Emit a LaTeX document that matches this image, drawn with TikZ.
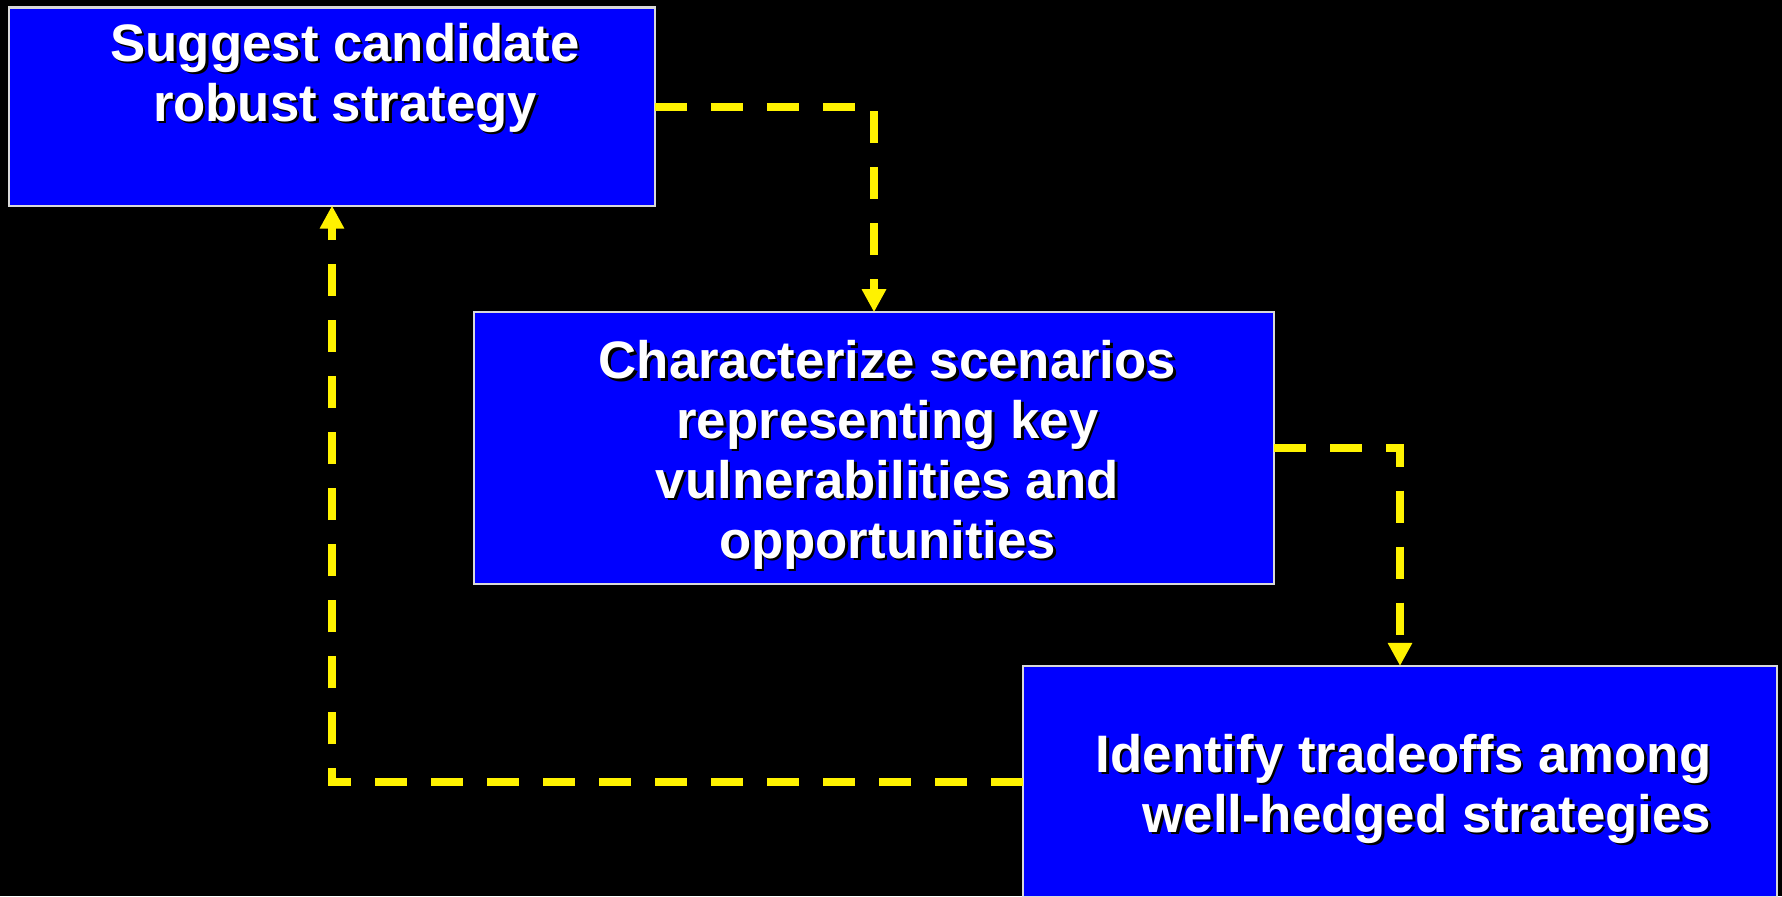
\documentclass[tikz,border=0pt]{standalone}
\usepackage{fontspec}
\setmainfont{Liberation Sans}
\usetikzlibrary{arrows.meta}

% white text with a small black drop shadow
\newcommand\shtxt[1]{\leavevmode\rlap{\kern0.7pt\raisebox{-0.7pt}{\color{black}#1}}#1}

\begin{document}
\begin{tikzpicture}[x=0.01cm,y=-0.01cm,
  box/.style={draw=white!85!black,line width=0.6pt,fill=blue,inner sep=0pt,outer sep=0pt},
  caption/.style={text=white,font=\fontsize{15pt}{17pt}\selectfont\bfseries,inner sep=0pt},
  flow/.style={draw=yellow,line width=0.08cm,dash pattern=on 0.32cm off 0.24cm,
    -{Triangle[length=0.23cm,width=0.23cm]}}]
  \useasboundingbox (0,0) rectangle (1782,896);
  \clip (0,0) rectangle (1782,896);
  \fill[black] (0,0) rectangle (1782,896);
  % boxes
  \node[box,minimum width=6.45cm,minimum height=1.98cm] (suggest) at (332,106.5) {};
  \node[box,minimum width=8.0cm,minimum height=2.72cm] (scenarios) at (874,448.3) {};
  \node[box,minimum width=7.53cm,minimum height=2.31cm] (tradeoffs) at (1400,781.5) {};
  % texts
  \node[caption,align=center] (suggest-txt) at (345,79)
    {\shtxt{Suggest candidate}\\\shtxt{robust strategy}};
  \node[caption,align=center] (scenarios-txt) at (887.5,456)
    {\shtxt{Characterize scenarios}\\\shtxt{representing key}\\
     \shtxt{vulnerabilities and}\\\shtxt{opportunities}};
  \node[caption,align=right,anchor=east] (tradeoffs-txt) at (1712,790)
    {\shtxt{Identify tradeoffs among}\\\shtxt{well-hedged strategies}};
  % loop
  \draw[flow] (suggest.east) -| (scenarios.north);
  \draw[flow] (scenarios.east) -| (tradeoffs.north);
  \draw[flow] (tradeoffs.west) -| (suggest.south);
\end{tikzpicture}
\end{document}
